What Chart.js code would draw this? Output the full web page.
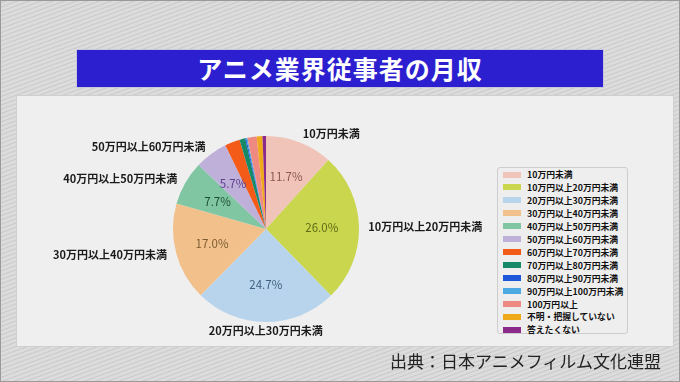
<!DOCTYPE html>
<html>
<head>
<meta charset="utf-8">
<script src="https://cdn.jsdelivr.net/npm/chart.js@4/dist/chart.umd.min.js"></script>
<style>
html,body{margin:0;padding:0;}
body{width:680px;height:382px;overflow:hidden;position:relative;
  font-family:"Noto Sans CJK JP","Noto Sans",sans-serif;
  background:#d6d6d6;
  background-image:repeating-linear-gradient(160deg,#dcdcdc 0px,#dcdcdc 2px,#c9c9c9 3px,#dcdcdc 4px);
}
#frame{position:absolute;left:0;top:0;width:678px;height:380px;border:1px solid #9a9a9a;}
#title{position:absolute;left:76px;top:49px;width:526px;height:37px;background:#2c1fd0;
  border:1px solid #c8c8d8;color:#fff;font-weight:bold;font-size:25px;line-height:37px;text-align:center;letter-spacing:1px;}
#panel{position:absolute;left:16px;top:95px;width:656px;height:250px;background:#efefef;border:1px solid #cfcfcf;}
#source{position:absolute;left:390px;top:349px;width:282px;font-size:17px;line-height:24px;color:#222;white-space:nowrap;}
#legend{position:absolute;left:497px;top:167px;width:131px;height:167px;background:#eeeeee;border:1px solid #cdcdcd;border-radius:3px;box-sizing:border-box;}
.row{position:absolute;left:5px;height:13px;font-size:8.8px;font-weight:bold;color:#111;line-height:13px;white-space:nowrap;}
.sw{position:absolute;left:0;top:3.5px;width:18px;height:6px;}
.tx{position:absolute;left:24px;top:0;}
#c{position:absolute;left:0;top:0;}
</style>
</head>
<body>
<div id="frame"></div>
<div id="title">アニメ業界従事者の月収</div>
<div id="panel"></div>
<div id="legend"></div>
<canvas id="c" width="680" height="382"></canvas>
<div id="source">出典：日本アニメフィルム文化連盟</div>
<script>
const categories = ["10万円未満","10万円以上20万円未満","20万円以上30万円未満","30万円以上40万円未満","40万円以上50万円未満","50万円以上60万円未満","60万円以上70万円未満","70万円以上80万円未満","80万円以上90万円未満","90万円以上100万円未満","100万円以上","不明・把握していない","答えたくない"];
const values = [11.7, 26.0, 24.7, 17.0, 7.7, 5.7, 2.6, 1.0, 0.2, 0.2, 1.6, 1.0, 0.6];
const sliceColors = ["#f0c4b8","#c9d64e","#b7d4ec","#f2c18b","#80c6a3","#bfb0d9","#f55b18","#168a68","#1d56d9","#4ca9e1","#ef8a82","#efaa1c","#8c2a8c"];
const pctColors = ["#8a5a52","#5f6c18","#405f80","#7c5c32","#1c4f34","#5e428e","#000","#000","#000","#000","#000","#000","#000"];
const labelMin = 5;

// legend built from arrays
const lg = document.getElementById('legend');
categories.forEach((c,i)=>{
  const r = document.createElement('div');
  r.className='row'; r.style.top=(0 + i*12.95)+'px';
  r.innerHTML = '<span class="sw" style="background:'+sliceColors[i]+'"></span><span class="tx">'+c+'</span>';
  lg.appendChild(r);
});

const labelPlugin = {
  id:'pieLabels',
  afterDatasetsDraw(chart){
    const ctx = chart.ctx;
    const meta = chart.getDatasetMeta(0);
    meta.data.forEach((arc,i)=>{
      const v = values[i];
      if (v < labelMin) return;
      const p = arc.getProps(['x','y','startAngle','endAngle','outerRadius'], true);
      const mid = (p.startAngle + p.endAngle)/2;
      const cx = Math.cos(mid), sy = Math.sin(mid);
      ctx.save();
      ctx.font = '11.5px "Noto Sans CJK JP","Noto Sans",sans-serif';
      ctx.fillStyle = pctColors[i];
      ctx.textAlign='center'; ctx.textBaseline='middle';
      ctx.fillText(v.toFixed(1)+'%', p.x + cx*p.outerRadius*0.6, p.y + sy*p.outerRadius*0.6);
      ctx.font = 'bold 11px "Noto Sans CJK JP","Noto Sans",sans-serif';
      ctx.fillStyle = '#1a1a1a';
      const lx = p.x + cx*p.outerRadius*1.1, ly = p.y + sy*p.outerRadius*1.1;
      ctx.textAlign = Math.abs(cx) < 0.1 ? 'center' : (cx > 0 ? 'left' : 'right');
      ctx.fillText(categories[i], lx, ly);
      ctx.restore();
    });
  }
};

new Chart(document.getElementById('c'), {
  type:'pie',
  data:{labels:categories, datasets:[{data:values, backgroundColor:sliceColors, borderWidth:0}]},
  options:{
    responsive:false, animation:false,
    layout:{padding:{left:173,right:321,top:136,bottom:60}},
    plugins:{legend:{display:false}, tooltip:{enabled:false}}
  },
  plugins:[labelPlugin]
});
</script>
</body>
</html>
